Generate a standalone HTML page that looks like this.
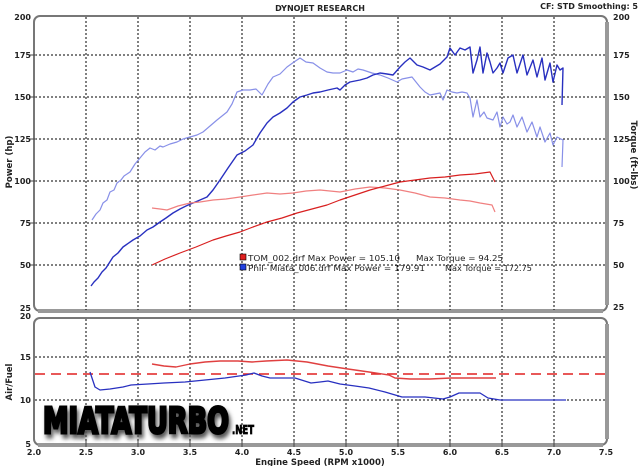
<!DOCTYPE html>
<html><head><meta charset="utf-8"><style>
html,body{margin:0;padding:0;background:#fff;}
svg{display:block;}
text{font-family:"DejaVu Sans","Liberation Sans",sans-serif;font-weight:bold;fill:#222;}
</style></head><body>
<svg width="640" height="466" viewBox="0 0 640 466" xmlns="http://www.w3.org/2000/svg">
<defs>
<filter id="sh" x="-10%" y="-20%" width="130%" height="160%"><feGaussianBlur stdDeviation="2"/></filter>
</defs>
<rect width="640" height="466" fill="#fff"/>
<rect x="34" y="16" width="573" height="295" rx="6" fill="#fff" stroke="#777" stroke-width="2"/>
<path d="M607 22 V305" stroke="#999" stroke-width="4"/>
<path d="M38 311 H603" stroke="#999" stroke-width="4"/>
<rect x="34" y="318" width="573" height="127" rx="6" fill="#fff" stroke="#777" stroke-width="2"/>
<path d="M607 324 V439" stroke="#999" stroke-width="4"/>
<path d="M38 445 H603" stroke="#999" stroke-width="4"/>
<g stroke="#000" stroke-width="1" stroke-dasharray="2,2">
<path d="M86 17V310M138 17V310M190 17V310M242 17V310M294 17V310M346 17V310M398 17V310M450 17V310M502 17V310M554 17V310"/>
<path d="M86 319V444M138 319V444M190 319V444M242 319V444M294 319V444M346 319V444M398 319V444M450 319V444M502 319V444M554 319V444"/>
<path d="M35 55H606M35 97H606M35 139H606M35 181H606M35 223H606M35 265H606"/>
<path d="M35 357H606M35 400H606"/>
</g>
<g stroke="#444" stroke-width="1">
<path d="M30 55H36M30 97H36M30 139H36M30 181H36M30 223H36M30 265H36"/>
<path d="M86 441V447M138 441V447M190 441V447M242 441V447M294 441V447M346 441V447M398 441V447M450 441V447M502 441V447M554 441V447"/>
</g>
<g font-size="8" text-anchor="end">
<text x="31" y="20">200</text><text x="31" y="58">175</text><text x="31" y="100">150</text><text x="31" y="142">125</text><text x="31" y="184">100</text><text x="31" y="226">75</text><text x="31" y="268">50</text><text x="31" y="311">25</text>
<text x="31" y="319">20</text><text x="31" y="360">15</text><text x="31" y="403">10</text><text x="31" y="447">5</text>
</g>
<g font-size="8">
<text x="613" y="20">200</text><text x="613" y="58">175</text><text x="613" y="100">150</text><text x="613" y="142">125</text><text x="613" y="184">100</text><text x="613" y="226">75</text><text x="613" y="268">50</text><text x="613" y="310">25</text>
</g>
<g font-size="8" text-anchor="middle">
<text x="34" y="455">2.0</text><text x="86" y="455">2.5</text><text x="138" y="455">3.0</text><text x="190" y="455">3.5</text><text x="242" y="455">4.0</text><text x="294" y="455">4.5</text><text x="346" y="455">5.0</text><text x="398" y="455">5.5</text><text x="450" y="455">6.0</text><text x="502" y="455">6.5</text><text x="554" y="455">7.0</text><text x="606" y="455">7.5</text>
<text x="320" y="465" font-size="8.5">Engine Speed (RPM x1000)</text>
<text x="320" y="11" font-size="8">DYNOJET RESEARCH</text>
</g>
<text x="638" y="9" font-size="8" text-anchor="end">CF: STD  Smoothing: 5</text>
<text transform="translate(12,162) rotate(-90)" font-size="8.5" text-anchor="middle">Power (hp)</text>
<text transform="translate(631,155) rotate(90)" font-size="8.5" text-anchor="middle">Torque (ft-lbs)</text>
<text transform="translate(12,382) rotate(-90)" font-size="8.5" text-anchor="middle">Air/Fuel</text>
<g fill="none" stroke-linejoin="round">
<polyline stroke="#8890e8" stroke-width="1.2" points="92,220 96,214 100,210 103,203 107,200 110,192 114,190 117,183 121,180 124,176 130,172 135,164 140,158 145,152 150,148 155,150 160,146 163,147 170,144 177,142 183,139 190,137 197,135 203,132 210,126 217,120 222,116 227,112 232,104 237,92 243,90 250,90 256,89 262,95 268,84 273,77 280,74 287,67 294,62 300,58 306,62 313,63 320,68 327,72 333,73 340,73 347,70 353,72 358,69 363,70 372,73 380,75 388,78 397,82 402,79 407,78 412,77 416,82 420,87 425,92 430,95 435,94 440,93 443,100 447,90 452,92 457,93 462,92 467,93 470,98 473,117 477,100 480,117 484,112 487,118 493,120 497,112 500,127 503,117 507,124 510,122 513,115 517,127 522,117 527,132 532,122 537,137 540,127 545,142 550,133 553,145 557,137 563,140 562,167"/>
<polyline stroke="#2830c0" stroke-width="1.4" points="91,286 94,282 98,278 102,272 106,268 113,257 118,253 123,247 133,240 140,236 147,230 153,227 160,222 166,218 173,213 180,209 186,206 193,203 200,200 207,197 213,190 220,180 228,168 237,155 245,151 253,145 260,133 267,123 273,117 280,113 287,108 293,102 300,97 307,95 313,93 320,92 328,90 337,88 340,90 345,85 350,82 355,81 360,80 367,78 373,75 380,73 387,74 393,75 400,67 405,62 410,58 417,65 423,67 430,70 435,67 440,64 447,57 450,48 455,55 460,48 465,50 470,47 473,73 477,60 480,47 483,73 487,53 490,62 493,73 497,68 500,63 503,73 508,58 513,55 517,73 520,64 523,55 527,75 533,60 537,77 542,58 545,80 550,63 553,82 557,65 560,70 563,68 562,105"/>
<polyline stroke="#f08080" stroke-width="1.2" points="152,208 160,209 167,210 178,206 190,203 200,202 213,200 226,199 240,197 253,195 267,193 280,194 293,193 306,191 320,190 330,191 340,192 355,189 370,187 385,188 400,190 415,193 430,197 445,198 460,200 470,201 480,203 492,205 495,212"/>
<polyline stroke="#d82020" stroke-width="1.2" points="152,265 165,259 180,253 196,247 213,240 226,236 240,232 253,227 267,222 282,218 297,213 312,209 327,205 340,200 355,195 370,190 385,186 400,182 415,180 430,178 445,177 460,175 475,174 490,172 495,182"/>
<path d="M35 374H606" stroke="#e02020" stroke-width="1.5" stroke-dasharray="10,6"/>
<polyline stroke="#e04040" stroke-width="1.4" points="152,364 164,366 176,367 190,364 205,362 220,361 238,361 252,362 266,361 287,360 307,362 328,366 348,369 369,372 389,375 395,378 410,379 430,379 451,378 475,378 496,378"/>
<polyline stroke="#2830c0" stroke-width="1.3" points="90,372 95,387 100,390 110,389 123,387 131,385 148,384 164,383 185,382 205,380 225,378 246,375 254,373 262,376 270,378 295,378 311,383 320,382 328,381 340,384 355,386 369,388 385,392 402,397 410,397 425,397 443,399 450,397 459,393 480,393 488,398 500,400 566,400"/>
</g>
<rect x="240" y="254" width="6" height="6" fill="#e02020" stroke="#000" stroke-width="0.6"/>
<rect x="240" y="264" width="6" height="6" fill="#2040e0" stroke="#000" stroke-width="0.6"/>
<g font-size="8">
<text x="248" y="261" style="font-weight:normal" textLength="152" lengthAdjust="spacingAndGlyphs">TOM_002.drf Max Power = 105.10</text>
<text x="416" y="261" style="font-weight:normal" textLength="87" lengthAdjust="spacingAndGlyphs">Max Torque = 94.25</text>
<text x="248" y="271" style="font-weight:normal" textLength="177" lengthAdjust="spacingAndGlyphs">Phil- Miata_006.drf Max Power = 179.91</text>
<text x="445" y="271" style="font-weight:normal" textLength="87" lengthAdjust="spacingAndGlyphs">Max Torque = 172.75</text>
</g>
<g>
<text x="45" y="437" font-size="36" font-family="DejaVu Sans Condensed, DejaVu Sans, sans-serif" style="font-weight:900;fill:#555" stroke="#555" stroke-width="3" textLength="186" lengthAdjust="spacingAndGlyphs" filter="url(#sh)">MIATATURBO</text>
<text x="43" y="433" font-size="36" font-family="DejaVu Sans Condensed, DejaVu Sans, sans-serif" style="font-weight:900;fill:#000" stroke="#000" stroke-width="3" textLength="186" lengthAdjust="spacingAndGlyphs">MIATATURBO</text>
<text x="232" y="434" font-size="12" style="font-weight:900;fill:#000" stroke="#000" stroke-width="0.8" textLength="22" lengthAdjust="spacingAndGlyphs">.NET</text>
</g>
</svg>
</body></html>
